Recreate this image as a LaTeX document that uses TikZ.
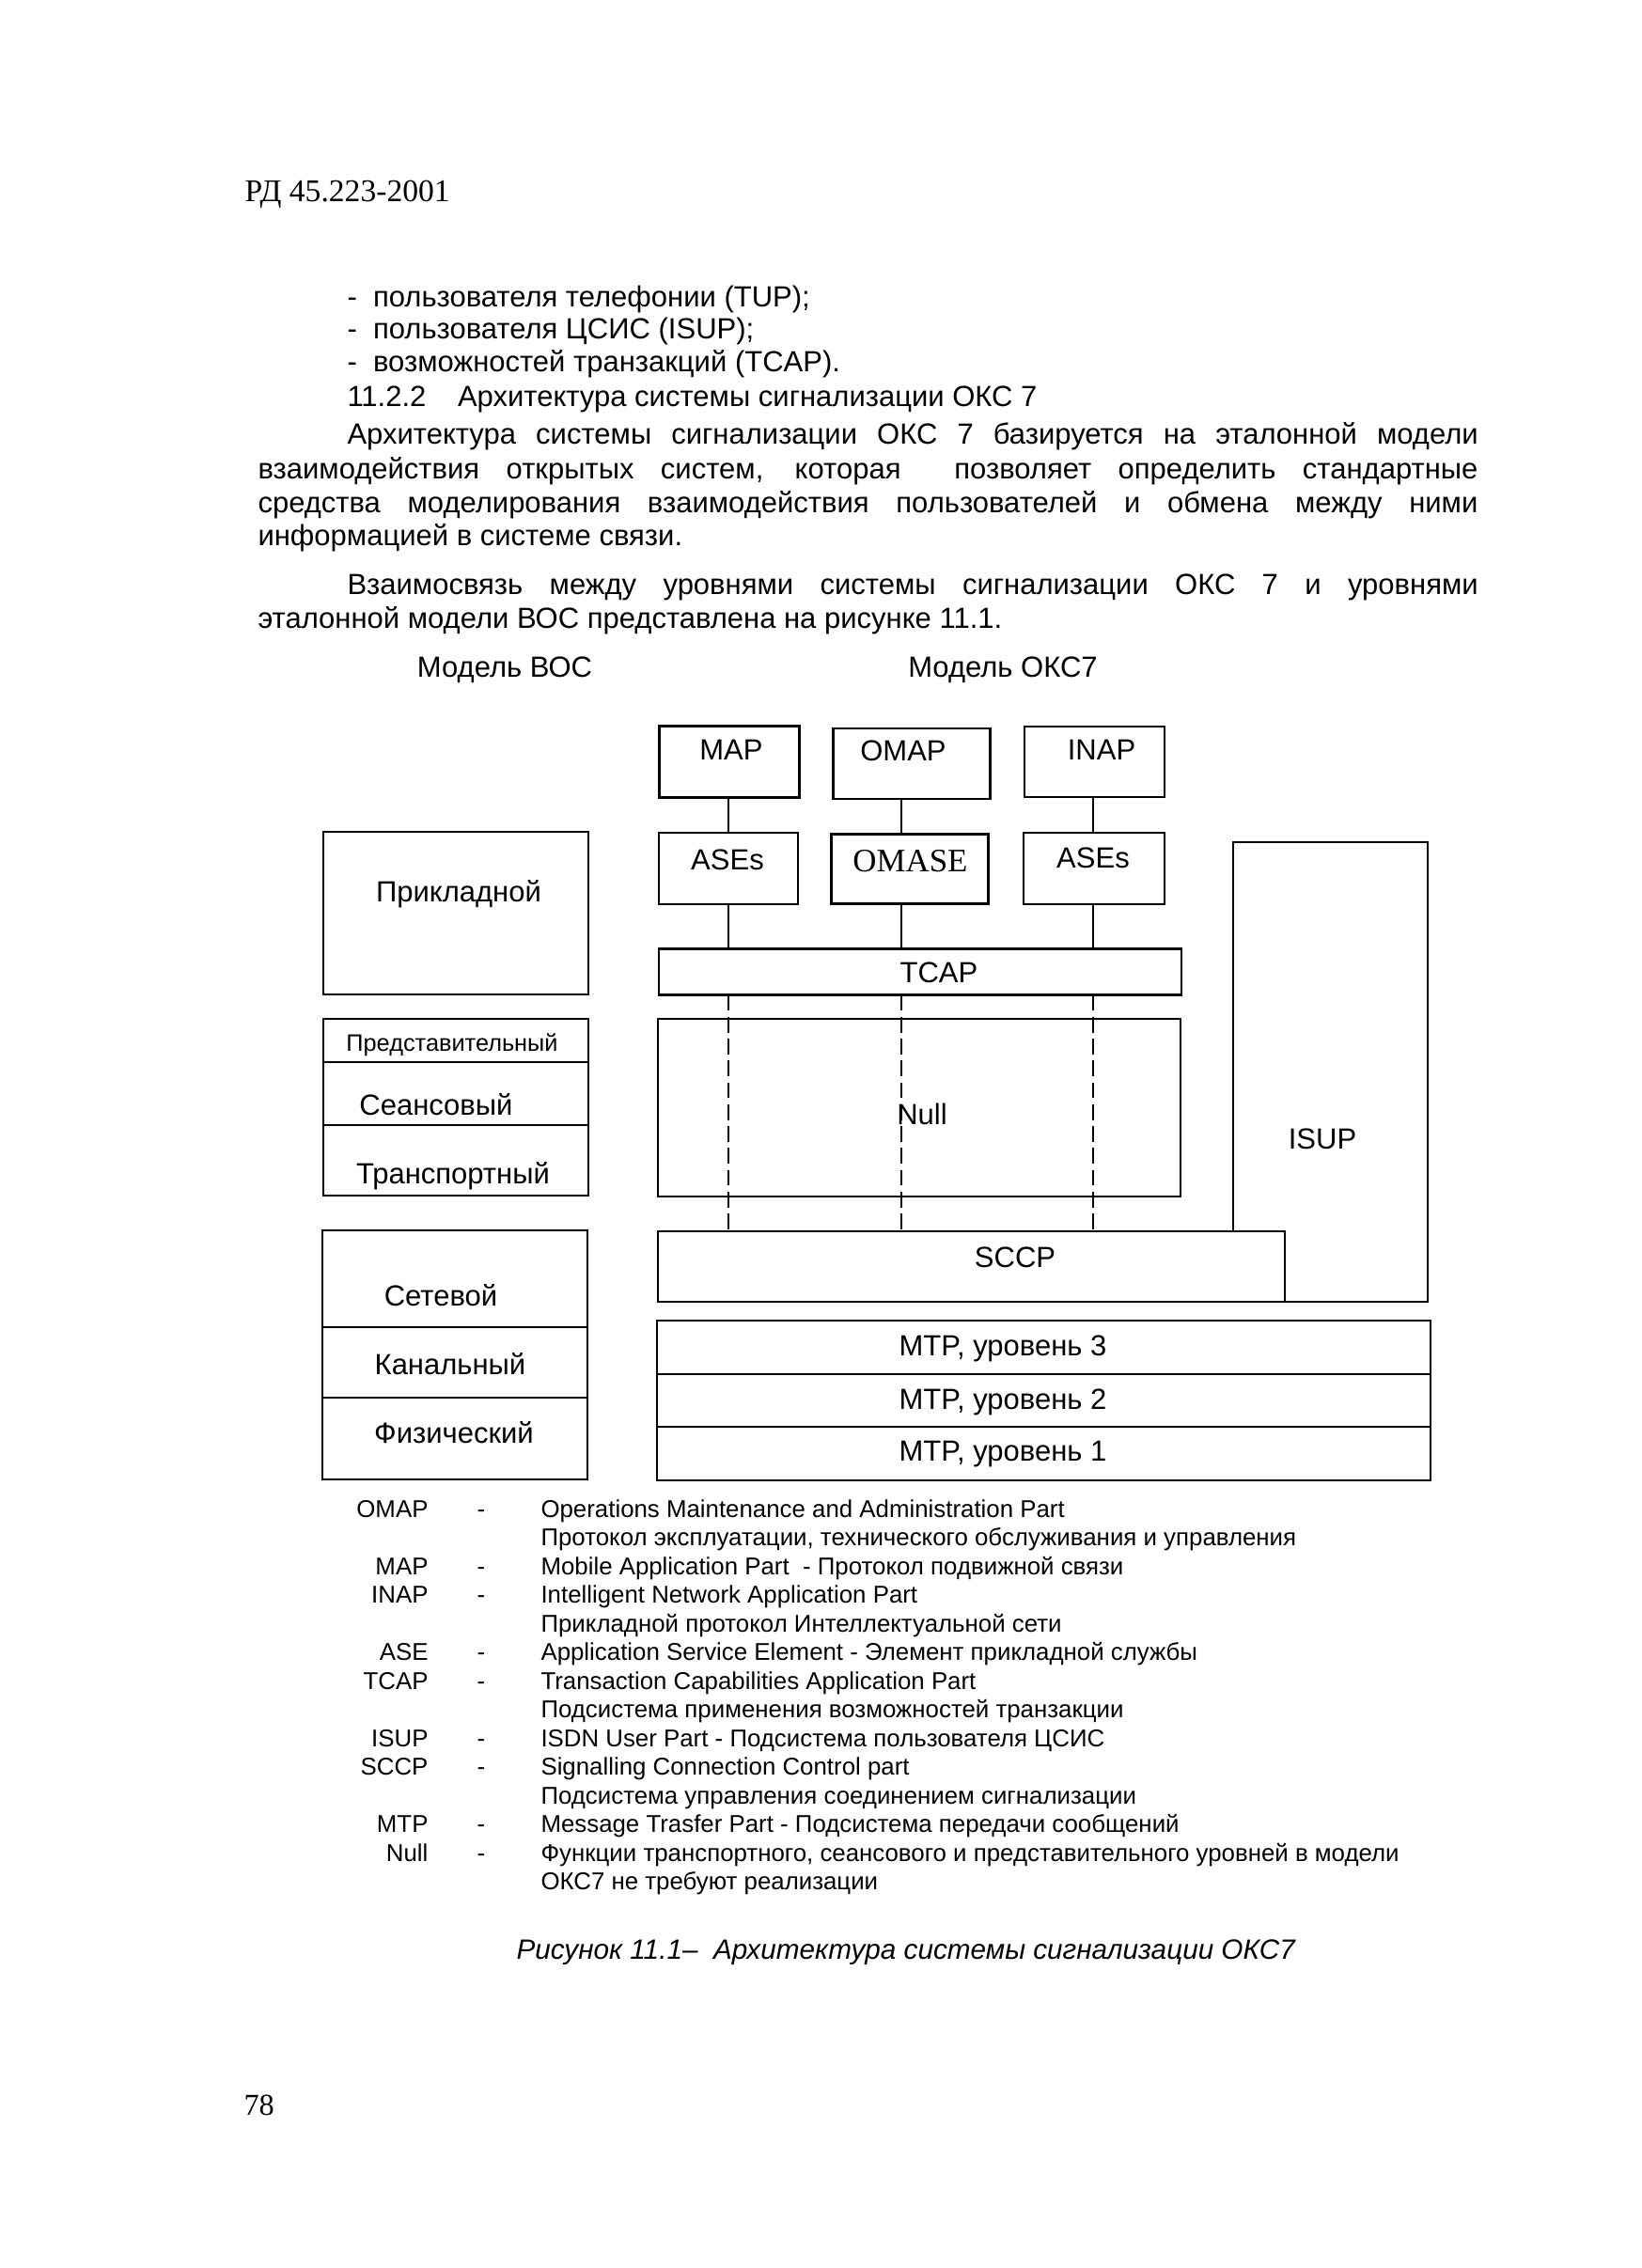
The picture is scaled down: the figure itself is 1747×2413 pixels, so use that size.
\documentclass[tikz,border=0pt]{standalone}
\usepackage{fontspec}
\setmainfont{Liberation Sans}
\newfontfamily\timesfont{Liberation Serif}
\usetikzlibrary{positioning}

\tikzset{
  blk/.style 2 args={draw, line width=1.1pt, inner sep=0pt, outer sep=0pt,
    minimum width=#1*0.387pt, minimum height=#2*0.387pt},
  zone/.style 2 args={inner sep=0pt, outer sep=0pt,
    minimum width=#1*0.387pt, minimum height=#2*0.387pt},
  lbl/.style={inner sep=0pt, text height=0.72em, text depth=0pt,
    font=\fontsize{12}{14}\selectfont},
  txt/.style={lbl, anchor=west},
  leg/.style={inner sep=0pt, text height=0.72em, text depth=0pt,
    font=\fontsize{10}{12}\selectfont},
  wire/.style={line width=0.8pt},
  dashwire/.style={line width=0.8pt, dash pattern=on 6.5pt off 2.5pt},
}

\begin{document}
\begin{tikzpicture}[x=0.387pt, y=-0.387pt]
  % page
  \fill[white] (0,0) rectangle (1747,2413);

  % header and text above the figure
  \node[txt, font=\timesfont\fontsize{13}{15}\selectfont] (head) at (260,205) {РД 45.223-2001};
  \node[txt] (b1) at (369,317) {-\ \ пользователя телефонии (TUP);};
  \node[txt] (b2) at (369,351) {-\ \ пользователя ЦСИС (ISUP);};
  \node[txt] (b3) at (369,386) {-\ \ возможностей транзакций (TCAP).};
  \node[txt] (sec) at (369,423) {11.2.2\hspace{13pt}Архитектура системы сигнализации ОКС 7};
  \node[txt] (p1) at (369,463) {\makebox[465.6pt][s]{Архитектура системы сигнализации ОКС 7 базируется на эталонной модели}};
  \node[txt] (p2) at (274,500) {\makebox[502.3pt][s]{взаимодействия открытых систем, которая\ \ позволяет определить стандартные}};
  \node[txt] (p3) at (274,536) {\makebox[502.3pt][s]{средства моделирования взаимодействия пользователей и обмена между ними}};
  \node[txt] (p4) at (274,571) {информацией в системе связи.};
  \node[txt] (q1) at (369,623) {\makebox[465.6pt][s]{Взаимосвязь между уровнями системы сигнализации ОКС 7 и уровнями}};
  \node[txt] (q2) at (274,659) {эталонной модели ВОС представлена на рисунке\ 11.1.};

  % model titles
  \node[lbl] (osititle) at (537,711) {Модель ВОС};
  \node[lbl] (okstitle) at (1067,711) {Модель ОКС7};

  % OSI layers
  \node[blk={282}{173}] (prikl) at (485,971.5) {};
  \node[blk={282}{46}] (pred) at (485,1107) {};
  \node[blk={282}{67}, below=0pt of pred] (seans) {};
  \node[blk={282}{75}, below=0pt of seans] (trans) {};
  \node[blk={282}{103}] (setev) at (484,1360.5) {};
  \node[blk={282}{75}, below=0pt of setev] (kan) {};
  \node[blk={282}{87}, below=0pt of kan] (fiz) {};

  \node[lbl] (prikltxt) at (488,950) {Прикладной};
  \node[lbl, font=\fontsize{9.8}{12}\selectfont] (predtxt) at (481,1109) {Представительный};
  \node[lbl] (seanstxt) at (464,1177) {Сеансовый};
  \node[lbl] (transtxt) at (482,1250) {Транспортный};
  \node[lbl] (setevtxt) at (469,1380) {Сетевой};
  \node[lbl] (kantxt) at (479,1453) {Канальный};
  \node[lbl] (fiztxt) at (483,1526) {Физический};

  % SS7 stack
  \node[blk={149}{76}] (map) at (776,810.5) {};
  \node[blk={167}{75}] (omap) at (970,812.5) {};
  \node[blk={149}{75}] (inap) at (1164.5,810.5) {};
  \node[blk={148}{76}] (ases1) at (775,924) {};
  \node[blk={167}{74}] (omase) at (968,924.7) {};
  \node[blk={150}{76}] (ases2) at (1164,924) {};
  \node[blk={556}{49}] (tcap) at (979,1034) {};
  \node[blk={556}{189}] (null) at (978,1178.5) {};
  \node[blk={667}{75}] (sccp) at (1033.5,1347.5) {};
  \node[zone={207}{489}] (isup) at (1415.5,1140.5) {};
  \node[blk={823}{57}] (mtp3) at (1110.5,1433.5) {};
  \node[blk={823}{56}, below=0pt of mtp3] (mtp2) {};
  \node[blk={823}{57}, below=0pt of mtp2] (mtp1) {};

  \node[lbl] (maptxt) at (778,799) {MAP};
  \node[lbl] (omaptxt) at (961,800) {OMAP};
  \node[lbl] (inaptxt) at (1172,799) {INAP};
  \node[lbl] (ases1txt) at (774,916) {ASEs};
  \node[lbl, font=\timesfont\fontsize{13.5}{15}\selectfont] (omasetxt) at (968.5,918.5) {OMASE};
  \node[lbl] (ases2txt) at (1163,914) {ASEs};
  \node[lbl] (tcaptxt) at (999,1036) {TCAP};
  \node[lbl] (nulltxt) at (981,1187) {Null};
  \node[lbl] (sccptxt) at (1080,1339) {SCCP};
  \node[lbl] (isuptxt) at (1407,1213) {ISUP};
  \node[lbl] (mtp3txt) at (1067,1433) {MTP, уровень 3};
  \node[lbl] (mtp2txt) at (1067,1490) {MTP, уровень 2};
  \node[lbl] (mtp1txt) at (1067,1545) {MTP, уровень 1};

  % ISUP outline
  \draw[line width=1.1pt] (sccp.north -| isup.west) -- (isup.north west)
    -- (isup.north east) -- (isup.south east) -- (sccp.south east);

  % columns of the application parts
  \coordinate (colA) at (775,0);
  \coordinate (colB) at (959,0);
  \coordinate (colC) at (1163,0);
  \draw[wire] (map.south -| colA) -- (ases1.north -| colA);
  \draw[wire] (omap.south -| colB) -- (omase.north -| colB);
  \draw[wire] (inap.south -| colC) -- (ases2.north -| colC);
  \draw[wire] (ases1.south -| colA) -- (tcap.north -| colA);
  \draw[wire] (omase.south -| colB) -- (tcap.north -| colB);
  \draw[wire] (ases2.south -| colC) -- (tcap.north -| colC);
  \draw[dashwire] (tcap.south -| colA) -- (sccp.north -| colA);
  \draw[dashwire] (tcap.south -| colB) -- (sccp.north -| colB);
  \draw[dashwire] (tcap.south -| colC) -- (sccp.north -| colC);

  % legend
  \node[leg, anchor=east] (l1a) at (456,1605) {OMAP};
  \node[leg] (l1d) at (512,1605) {-};
  \node[leg, anchor=west] (l1t) at (575,1605) {Operations Maintenance and Administration Part};
  \node[leg, anchor=west] (l2t) at (575,1635.5) {Протокол эксплуатации, технического обслуживания и управления};
  \node[leg, anchor=east] (l3a) at (456,1666) {MAP};
  \node[leg] (l3d) at (512,1666) {-};
  \node[leg, anchor=west] (l3t) at (575,1666) {Mobile Application Part\ \ - Протокол подвижной связи};
  \node[leg, anchor=east] (l4a) at (456,1696.5) {INAP};
  \node[leg] (l4d) at (512,1696.5) {-};
  \node[leg, anchor=west] (l4t) at (575,1696.5) {Intelligent Network Application Part};
  \node[leg, anchor=west] (l5t) at (575,1727) {Прикладной протокол Интеллектуальной сети};
  \node[leg, anchor=east] (l6a) at (456,1757.5) {ASE};
  \node[leg] (l6d) at (512,1757.5) {-};
  \node[leg, anchor=west] (l6t) at (575,1757.5) {Application Service Element - Элемент прикладной службы};
  \node[leg, anchor=east] (l7a) at (456,1788) {TCAP};
  \node[leg] (l7d) at (512,1788) {-};
  \node[leg, anchor=west] (l7t) at (575,1788) {Transaction Capabilities Application Part};
  \node[leg, anchor=west] (l8t) at (575,1818.5) {Подсистема применения возможностей транзакции};
  \node[leg, anchor=east] (l9a) at (456,1849) {ISUP};
  \node[leg] (l9d) at (512,1849) {-};
  \node[leg, anchor=west] (l9t) at (575,1849) {ISDN User Part - Подсистема пользователя ЦСИС};
  \node[leg, anchor=east] (l10a) at (456,1879.5) {SCCP};
  \node[leg] (l10d) at (512,1879.5) {-};
  \node[leg, anchor=west] (l10t) at (575,1879.5) {Signalling Connection Control part};
  \node[leg, anchor=west] (l11t) at (575,1910) {Подсистема управления соединением сигнализации};
  \node[leg, anchor=east] (l12a) at (456,1940.5) {MTP};
  \node[leg] (l12d) at (512,1940.5) {-};
  \node[leg, anchor=west] (l12t) at (575,1940.5) {Message Trasfer Part - Подсистема передачи сообщений};
  \node[leg, anchor=east] (l13a) at (456,1971) {Null};
  \node[leg] (l13d) at (512,1971) {-};
  \node[leg, anchor=west] (l13t) at (575,1971) {Функции транспортного, сеансового и представительного уровней в модели};
  \node[leg, anchor=west] (l14t) at (575,2001.5) {ОКС7 не требуют реализации};

  % caption and page number
  \node[txt, font=\itshape\fontsize{11.5}{14}\selectfont] (caption) at (549,2075) {Рисунок 11.1–\ \ Архитектура системы сигнализации ОКС7};
  \node[txt, font=\timesfont\fontsize{12.5}{14}\selectfont] (pagenum) at (259,2241) {78};
\end{tikzpicture}
\end{document}
